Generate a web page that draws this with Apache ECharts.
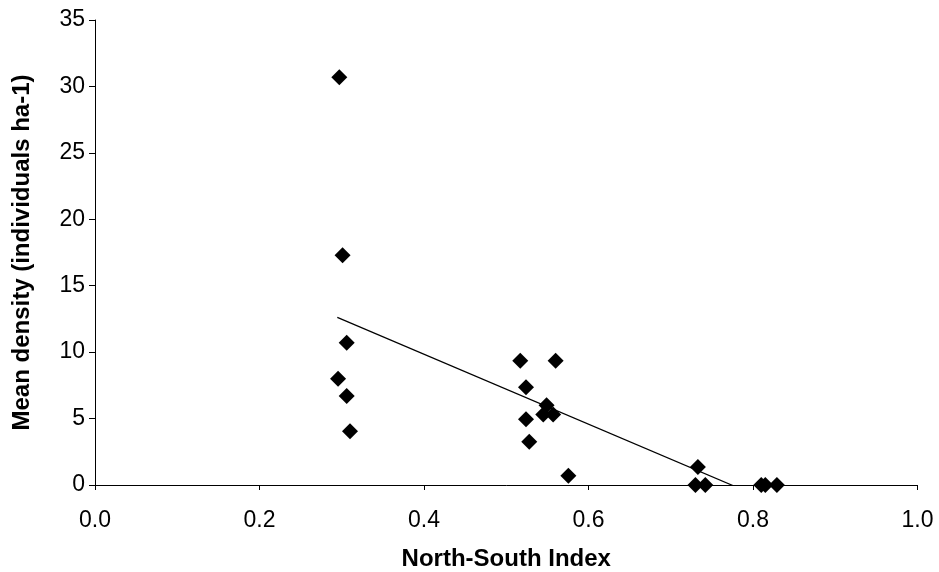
<!DOCTYPE html>
<html>
<head>
<meta charset="utf-8">
<script src="https://cdn.jsdelivr.net/npm/echarts@6/dist/echarts.min.js"></script>
<style>
  html, body { margin: 0; padding: 0; background: #fff; }
  #chart { width: 939px; height: 572px; }
</style>
</head>
<body>
<div id="chart"></div>
<script>
// valores
var xIndex = [0.297, 0.301, 0.306, 0.2955, 0.306, 0.31,
  0.517, 0.56, 0.524, 0.549, 0.545, 0.557, 0.524, 0.528, 0.5755,
  0.733, 0.73, 0.742, 0.81, 0.815, 0.829];
var density = [30.7, 17.3, 10.7, 8.0, 6.7, 4.05,
  9.35, 9.35, 7.35, 6.0, 5.3, 5.3, 4.95, 3.25, 0.7,
  1.35, 0, 0, 0, 0, 0];
// linea de tendencia (extremos)
var trendX = [0.2946, 0.829];
var trendY = [12.62, -1.45];

var xTicks = [0, 0.2, 0.4, 0.6, 0.8, 1.0];
var yTicks = [0, 5, 10, 15, 20, 25, 30, 35];

var points = xIndex.map(function (x, i) { return [x, density[i]]; });
var trend = trendX.map(function (x, i) { return [x, trendY[i]]; });

var font = "'Liberation Sans', Arial, sans-serif";

document.addEventListener("DOMContentLoaded", function () {
  var chart = echarts.init(document.querySelector("#chart"));
  chart.setOption({
    animation: false,
    grid: { left: 95, right: 21.5, top: 20, bottom: 87, containLabel: false, outerBoundsMode: "none" },
    xAxis: {
      type: "value",
      min: xTicks[0],
      max: xTicks[xTicks.length - 1],
      interval: 0.2,
      name: "North-South Index",
      nameLocation: "middle",
      nameGap: 62,
      nameTextStyle: { fontFamily: font, fontSize: 24, fontWeight: "bold", color: "#000" },
      axisLine: { lineStyle: { color: "#000", width: 1 } },
      axisTick: { length: 5, lineStyle: { color: "#000" } },
      splitLine: { show: false },
      axisLabel: {
        margin: 24,
        fontFamily: font,
        fontSize: 23,
        color: "#000",
        formatter: function (v) { return v.toFixed(1); }
      }
    },
    yAxis: {
      type: "value",
      min: yTicks[0],
      max: yTicks[yTicks.length - 1],
      interval: 5,
      name: "Mean density (individuals ha-1)",
      nameLocation: "middle",
      nameGap: 61,
      nameTextStyle: { fontFamily: font, fontSize: 24, fontWeight: "bold", color: "#000" },
      axisLine: { show: true, lineStyle: { color: "#000", width: 1 } },
      axisTick: { show: true, length: 6, lineStyle: { color: "#000" } },
      splitLine: { show: false },
      axisLabel: { margin: 10, fontFamily: font, fontSize: 23, color: "#000" }
    },
    series: [
      {
        type: "line",
        data: trend,
        showSymbol: false,
        symbol: "none",
        clip: true,
        lineStyle: { color: "#000", width: 1.2 },
        z: 2
      },
      {
        type: "scatter",
        data: points,
        symbol: "diamond",
        symbolSize: 16,
        clip: false,
        itemStyle: { color: "#000", opacity: 1 },
        z: 3
      }
    ]
  });
});
</script>
</body>
</html>
